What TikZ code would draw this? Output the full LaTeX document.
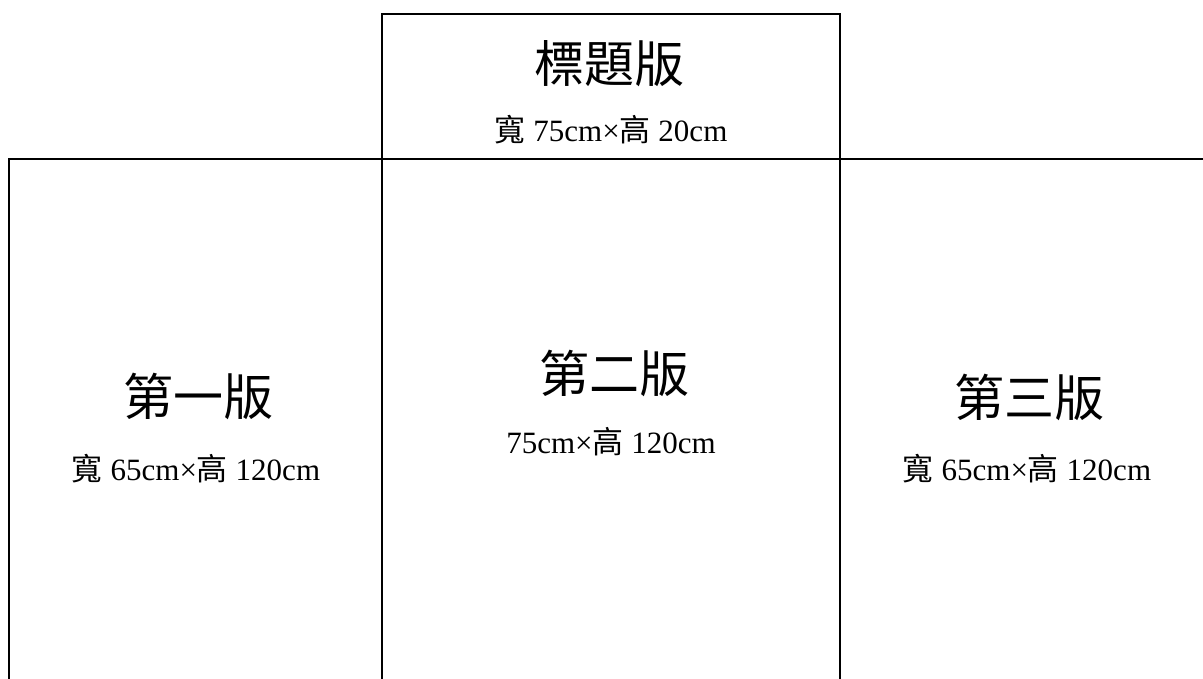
\documentclass[tikz,border=0pt]{standalone}
\usepackage{fontspec}
\setmainfont{Liberation Serif}
\newfontfamily\cjk{Noto Sans CJK TC}
\tikzset{
  panel/.style={draw=black, line width=2.5pt},
  bigtitle/.style={inner sep=0pt, anchor=center, font=\cjk\fontsize{50}{54}\selectfont},
  sizelabel/.style={inner sep=0pt, anchor=base, font=\fontsize{31}{35}\selectfont},
}
\begin{document}
\begin{tikzpicture}[x=1pt,y=-1pt]
\useasboundingbox (0,0) rectangle (1203,679);
% title box
\draw[panel] (382,690) -- (382,14) -- (840,14) -- (840,690);
% horizontal line and left/right boxes
\draw[panel] (9,690) -- (9,159) -- (1210,159);
% titles
\node[bigtitle] (t0) at (609,64) {標題版};
\node[sizelabel] (s0) at (611,142) {{\cjk 寬} 75cm×{\cjk 高} 20cm};
\node[bigtitle] (t1) at (198,396) {第一版};
\node[sizelabel] (s1) at (196,480) {{\cjk 寬} 65cm×{\cjk 高} 120cm};
\node[bigtitle] (t2) at (614,373) {第二版};
\node[sizelabel] (s2) at (611,453) {75cm×{\cjk 高} 120cm};
\node[bigtitle] (t3) at (1029,397) {第三版};
\node[sizelabel] (s3) at (1027,480) {{\cjk 寬} 65cm×{\cjk 高} 120cm};
\end{tikzpicture}
\end{document}
